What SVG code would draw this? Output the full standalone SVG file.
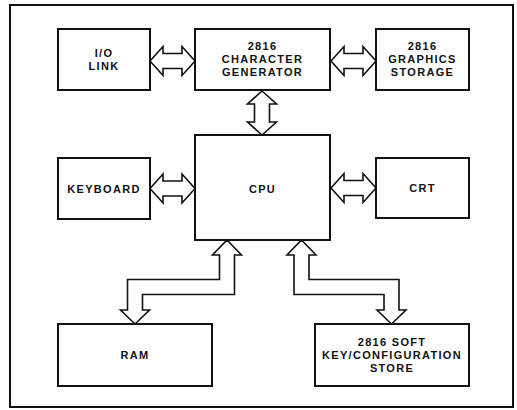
<svg xmlns="http://www.w3.org/2000/svg" width="517" height="410" viewBox="0 0 517 410">
<style>
.box{fill:#fff;stroke:#111;stroke-width:2}
.bus{fill:#fff;stroke:#111;stroke-width:1.6;stroke-linejoin:miter}
.frame{fill:none;stroke:#111;stroke-width:2}
text{font-family:"Liberation Sans",Arial,sans-serif;font-weight:bold;font-size:11px;fill:#111;text-anchor:middle;letter-spacing:1.3px}
</style>
<rect width="517" height="410" fill="#fff"/>
<rect class="frame" x="10" y="5" width="503" height="402"/>
<g id="connectors">
<polygon class="bus" points="150,61 163,46.5 163,53.5 182,53.5 182,46.5 195,61 182,75.5 182,68.5 163,68.5 163,75.5"/>
<polygon class="bus" points="331,61 344,46.5 344,53.5 363,53.5 363,46.5 376,61 363,75.5 363,68.5 344,68.5 344,75.5"/>
<polygon class="bus" points="150,188.5 163,174 163,181 182,181 182,174 195,188.5 182,203 182,196 163,196 163,203"/>
<polygon class="bus" points="331,188 344,173.5 344,180.5 363,180.5 363,173.5 376,188 363,202.5 363,195.5 344,195.5 344,202.5"/>
<polygon class="bus" points="262,91 276.5,104 269.5,104 269.5,122 276.5,122 262,135 247.5,122 254.5,122 254.5,104 247.5,104"/>
<polygon class="bus" points="227,240 241.5,255 234.5,255 234.5,294.5 142.5,294.5 142.5,310 149.5,310 135,324 120.5,310 127.5,310 127.5,279.5 219.5,279.5 219.5,255 212.5,255"/>
<polygon class="bus" points="301.5,240 316,255 309,255 309,279.5 399,279.5 399,310 406,310 391.5,324 377,310 384,310 384,294.5 294,294.5 294,255 287,255"/>
</g>
<g id="io-link">
<rect class="box" x="58" y="29" width="92" height="61"/>
<text x="104" y="57">I/O</text>
<text x="104" y="70">LINK</text>
</g>
<g id="char-gen">
<rect class="box" x="195" y="29" width="135" height="61"/>
<text x="262.5" y="50">2816</text>
<text x="262.5" y="63">CHARACTER</text>
<text x="262.5" y="76">GENERATOR</text>
</g>
<g id="graphics-storage">
<rect class="box" x="376" y="29" width="93" height="61"/>
<text x="422.5" y="50">2816</text>
<text x="422.5" y="63">GRAPHICS</text>
<text x="422.5" y="76">STORAGE</text>
</g>
<g id="keyboard">
<rect class="box" x="58" y="158" width="92" height="61"/>
<text x="104" y="193">KEYBOARD</text>
</g>
<g id="cpu">
<rect class="box" x="195" y="135" width="135" height="105"/>
<text x="262.5" y="193">CPU</text>
</g>
<g id="crt">
<rect class="box" x="376" y="158" width="93" height="60"/>
<text x="422.5" y="192">CRT</text>
</g>
<g id="ram">
<rect class="box" x="58" y="324" width="154" height="62"/>
<text x="135" y="359">RAM</text>
</g>
<g id="soft-key-store">
<rect class="box" x="315" y="324" width="154" height="62"/>
<text x="392" y="346">2816 SOFT</text>
<text x="392" y="359">KEY/CONFIGURATION</text>
<text x="392" y="372">STORE</text>
</g>
</svg>
